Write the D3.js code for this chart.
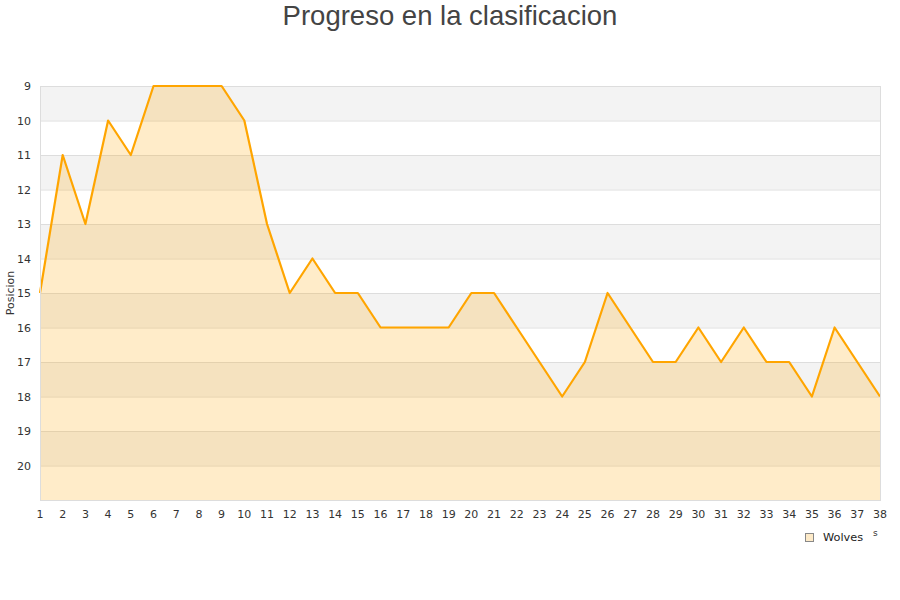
<!DOCTYPE html>
<html><head><meta charset="utf-8">
<script src="https://cdn.jsdelivr.net/npm/d3@7"></script>
<style>body{margin:0;background:#fff}</style>
</head><body>
<svg id="c" width="900" height="600"></svg>
<script>
const jornadas = d3.range(1, 39);
const posiciones = [15,11,13,10,11,9,9,9,9,10,13,15,14,15,15,16,16,16,16,15,15,16,17,18,17,15,16,17,17,16,17,16,17,17,18,16,17,18];
const yTicks = [9,10,11,12,13,14,15,16,17,18,19,20];
const seriesName = "Wolves";
const title = "Progreso en la clasificacion";
const yTitle = "Posicion";

const svg = d3.select("#c");
const L = 40, R = 880, T = 86, B = 500;
const x = d3.scaleLinear().domain([1, 38]).range([L, R]);
const y = d3.scaleLinear().domain([9, 21]).range([T, B]);

const bands = d3.range(9, 21);
svg.append("g").selectAll("rect").data(bands).join("rect")
  .attr("x", L).attr("width", R - L)
  .attr("y", d => y(d)).attr("height", d => y(d + 1) - y(d))
  .attr("fill", d => (d % 2 === 1) ? "#f3f3f3" : "#ffffff");
svg.append("g").selectAll("line").data(d3.range(9, 22)).join("line")
  .attr("x1", L).attr("x2", R)
  .attr("y1", d => y(d) + 0.5).attr("y2", d => y(d) + 0.5)
  .attr("stroke", "#dddddd").attr("stroke-width", 1);

const data = jornadas.map((j, i) => ({j, p: posiciones[i]}));
svg.append("path").datum(data)
  .attr("d", d3.area().x(d => x(d.j)).y0(y(21)).y1(d => y(d.p)))
  .attr("fill", "rgba(255,165,0,0.21)");
svg.append("path").datum(data)
  .attr("d", d3.line().x(d => x(d.j)).y(d => y(d.p)))
  .attr("fill", "none").attr("stroke", "#FFA500").attr("stroke-width", 2.2)
  .attr("stroke-linejoin", "round");

svg.append("line").attr("x1", L + 0.5).attr("x2", L + 0.5).attr("y1", T).attr("y2", B + 1).attr("stroke", "#dddddd");
svg.append("line").attr("x1", R + 0.5).attr("x2", R + 0.5).attr("y1", T).attr("y2", B + 1).attr("stroke", "#dddddd");

svg.append("g").selectAll("text").data(yTicks).join("text")
  .attr("x", 31).attr("y", d => y(d) + 4)
  .attr("text-anchor", "end")
  .attr("font-family", "DejaVu Sans").attr("font-size", 11).attr("fill", "#333")
  .text(d => d);
svg.append("g").selectAll("text").data(jornadas).join("text")
  .attr("x", d => x(d)).attr("y", 518)
  .attr("text-anchor", "middle")
  .attr("font-family", "DejaVu Sans").attr("font-size", 11).attr("fill", "#333")
  .text(d => d);

svg.append("text").attr("transform", "translate(14,293) rotate(-90)")
  .attr("text-anchor", "middle")
  .attr("font-family", "DejaVu Sans").attr("font-size", 11).attr("fill", "#333")
  .text(yTitle);

svg.append("text").attr("x", 450).attr("y", 25)
  .attr("text-anchor", "middle")
  .attr("font-family", "Liberation Sans, Arial, sans-serif").attr("font-size", 27.5).attr("fill", "#444")
  .text(title);

svg.append("rect").attr("x", 805.5).attr("y", 533.5).attr("width", 8).attr("height", 8)
  .attr("fill", "#fdeac8").attr("stroke", "#888").attr("stroke-width", 1);
svg.append("text").attr("x", 823).attr("y", 541)
  .attr("font-family", "DejaVu Sans").attr("font-size", 11.3).attr("fill", "#222")
  .text(seriesName);
svg.append("text").attr("x", 873).attr("y", 536)
  .attr("font-family", "DejaVu Sans").attr("font-size", 9).attr("fill", "#333")
  .text("s");
</script>
</body></html>
